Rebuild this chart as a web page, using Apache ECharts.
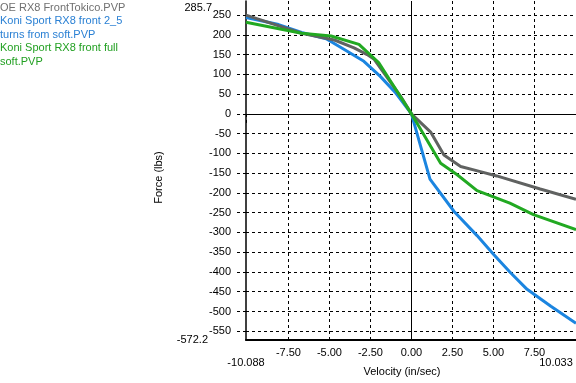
<!DOCTYPE html>
<html>
<head>
<meta charset="utf-8">
<script src="https://cdn.jsdelivr.net/npm/echarts@6/dist/echarts.min.js"></script>
<style>
html,body{margin:0;padding:0;background:#fff;}
#c{width:576px;height:383px;}
</style>
</head>
<body>
<div id="c"></div>
<script>
// Data
const seriesNames = ['OE RX8 FrontTokico.PVP', 'Koni Sport RX8 front 2_5 turns from soft.PVP', 'Koni Sport RX8 front full soft.PVP'];
const legendLabels = ['OE RX8 FrontTokico.PVP', 'Koni Sport RX8 front 2_5\nturns from soft.PVP', 'Koni Sport RX8 front full\nsoft.PVP'];

const velGray  = [-10.088, -6.7, -4.7, -3.5, -2.7, -2.27, -0.65, 0, 1.17, 1.98, 3.0, 4.2, 5.2, 7.85, 10.033];
const forceGray = [250, 204, 187, 167, 150, 138, 44, 0, -46, -104, -133, -146, -157, -190, -216];

const velBlue  = [-10.088, -8.1, -6.7, -5.2, -4.3, -2.9, -1.9, -1.0, 0, 1.13, 2.6, 4.0, 5.0, 6.0, 7.05, 8.5, 10.033];
const forceBlue = [244, 226, 206, 190, 168, 133, 95, 55, 0, -165, -247, -308, -355, -400, -444, -487, -530];

const velGreen  = [-10.088, -6.7, -4.9, -3.2, -2.0, 0, 0.36, 1.78, 2.79, 4.0, 6.0, 7.44, 10.033];
const forceGreen = [232, 204, 197, 176, 130, 0, -25, -125, -154, -194, -226, -255, -293];

const xMin = -10.088, xMax = 10.033;
const yMin = -572.2, yMax = 285.7;
const xTicks = [-7.5, -5, -2.5, 0, 2.5, 5, 7.5];
const yTicks = [-550, -500, -450, -400, -350, -300, -250, -200, -150, -100, -50, 0, 50, 100, 150, 200, 250];

const colors = ['#606261', '#1b85e0', '#22a922'];
const legendColors = ['#707070', '#2a80d4', '#22a022'];

const font = 'Liberation Sans';
const pairs = (xs, ys) => xs.map((x, i) => [x, ys[i]]);
const dash = [3, 3];

const chart = echarts.init(document.getElementById('c'), null, {renderer: 'canvas'});
chart.setOption({
  animation: false,
  textStyle: {fontFamily: font, fontSize: 11, color: '#000'},
  legend: {
    orient: 'vertical', left: -5, top: 1, padding: 0, itemGap: 0,
    itemWidth: 0, itemHeight: 0, icon: 'rect', selectedMode: false,
    data: seriesNames.map((n, i) => ({name: n, textStyle: {color: legendColors[i]}})),
    formatter: name => legendLabels[seriesNames.indexOf(name)],
    textStyle: {fontFamily: font, fontSize: 11, lineHeight: 13.5}
  },
  grid: {left: 246, right: 0, top: 1, bottom: 43},
  xAxis: [{
    type: 'value', min: xMin, max: xMax,
    name: 'Velocity (in/sec)', nameLocation: 'middle', nameGap: 26,
    nameTextStyle: {fontFamily: font, fontSize: 11, color: '#000', padding: [0, 18, 0, 0]},
    axisLine: {onZero: false, lineStyle: {color: '#000', width: 2}},
    axisTick: {show: false, customValues: xTicks},
    axisLabel: {customValues: xTicks, margin: 7, color: '#000', fontFamily: font, fontSize: 11,
      formatter: v => v.toFixed(2)},
    splitLine: {show: true, lineStyle: {color: '#000', type: dash, width: 1}}
  }, {
    type: 'value', min: xMin, max: xMax, position: 'bottom',
    axisLine: {show: false},
    axisTick: {show: true, customValues: [xMin, xMax], length: 12, lineStyle: {color: '#000', type: dash}},
    axisLabel: {customValues: [xMin, xMax], margin: 17, color: '#000', fontFamily: font, fontSize: 11,
      formatter: v => v > 0 ? '{r|' + v.toFixed(3) + '}' : v.toFixed(3),
      rich: {r: {padding: [0, 40, 0, 0], fontFamily: font, fontSize: 11, color: '#000'}}},
    splitLine: {show: false}
  }],
  yAxis: [{
    type: 'value', min: yMin, max: yMax,
    name: 'Force (lbs)', nameLocation: 'middle', nameGap: 82, nameRotate: 90,
    nameTextStyle: {fontFamily: font, fontSize: 11, color: '#000', padding: [0, 14, 0, 0]},
    axisLine: {onZero: false, lineStyle: {color: '#000', width: 1.5}},
    axisTick: {show: true, customValues: yTicks, length: 9, lineStyle: {color: '#000', type: dash}},
    axisLabel: {customValues: yTicks, margin: 15, color: '#000', fontFamily: font, fontSize: 11},
    splitLine: {show: true, lineStyle: {color: '#000', type: dash, width: 1}}
  }, {
    type: 'value', min: yMin, max: yMax, position: 'left',
    axisLine: {show: false},
    axisTick: {show: true, customValues: [yMin], length: 37, lineStyle: {color: '#000', type: dash}},
    axisLabel: {customValues: [yMin, yMax], margin: 34, color: '#000', fontFamily: font, fontSize: 11,
      formatter: v => v > 0 ? '{t|' + v.toFixed(1) + '}' : '{b|' + v.toFixed(1) + '}',
      rich: {t: {padding: [13, 0, 0, 0], fontFamily: font, fontSize: 11, color: '#000'},
             b: {padding: [0, 4, 0, 0], fontFamily: font, fontSize: 11, color: '#000'}}},
    splitLine: {show: false}
  }],
  series: [
    {name: seriesNames[1], type: 'line', data: pairs(velBlue, forceBlue), showSymbol: false,
     lineStyle: {color: colors[1], width: 3}, itemStyle: {color: colors[1]}, z: 3,
     markLine: {silent: true, symbol: 'none', label: {show: false},
       lineStyle: {color: '#000', type: 'solid', width: 1},
       data: [{xAxis: 0}, {yAxis: 0}], z: 1}},
    {name: seriesNames[0], type: 'line', data: pairs(velGray, forceGray), showSymbol: false,
     lineStyle: {color: colors[0], width: 3}, itemStyle: {color: colors[0]}, z: 4},
    {name: seriesNames[2], type: 'line', data: pairs(velGreen, forceGreen), showSymbol: false,
     lineStyle: {color: colors[2], width: 3}, itemStyle: {color: colors[2]}, z: 5}
  ]
});
</script>
</body>
</html>
